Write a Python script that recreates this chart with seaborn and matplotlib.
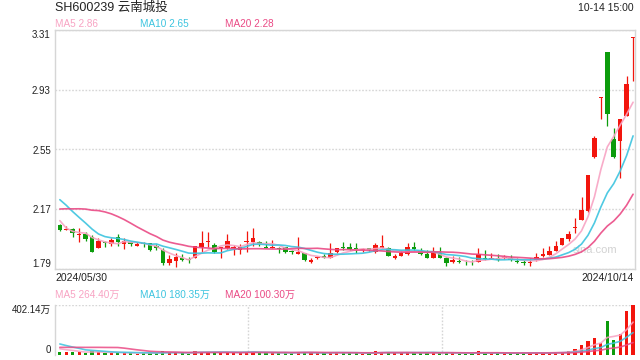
import numpy as np
import pandas as pd
import matplotlib
matplotlib.use('Agg')
import matplotlib.pyplot as plt
import seaborn as sns

# SH600239 云南城投, daily candles 2024/05/30 - 2024/10/14
opens = [2.070, 2.036, 2.044, 2.006, 2.012, 1.995, 1.925, 1.963, 1.949, 1.995,
         1.946, 1.959, 1.938, 1.953, 1.953, 1.938, 1.910, 1.826, 1.840, 1.857,
         1.851, 1.862, 1.927, 1.959, 1.942, 1.921, 1.921, 1.921, 1.910, 1.963,
         1.959, 1.963, 1.932, 1.925, 1.921, 1.927, 1.904, 1.883, 1.889, 1.836,
         1.857, 1.874, 1.862, 1.896, 1.927, 1.927, 1.921, 1.910, 1.921, 1.900,
         1.925, 1.921, 1.862, 1.874, 1.883, 1.927, 1.904, 1.883, 1.862, 1.889,
         1.862, 1.836, 1.840, 1.836, 1.836, 1.836, 1.862, 1.855, 1.862, 1.857,
         1.862, 1.840, 1.837, 1.826, 1.847, 1.873, 1.881, 1.907, 1.945, 1.981,
         2.051, 2.104, 2.157, 2.500, 2.878, 3.170, 2.617, 2.602, 2.765, 3.262]
closes = [2.038, 2.044, 2.016, 2.012, 1.980, 1.900, 1.968, 1.953, 1.974, 1.959,
          1.968, 1.946, 1.946, 1.949, 1.910, 1.921, 1.826, 1.851, 1.868, 1.847,
          1.847, 1.936, 1.953, 1.968, 1.900, 1.927, 1.968, 1.932, 1.932, 1.968,
          1.985, 1.946, 1.925, 1.929, 1.917, 1.896, 1.896, 1.896, 1.847, 1.847,
          1.868, 1.862, 1.889, 1.921, 1.921, 1.915, 1.917, 1.917, 1.910, 1.940,
          1.936, 1.874, 1.874, 1.889, 1.932, 1.917, 1.883, 1.862, 1.896, 1.862,
          1.830, 1.847, 1.832, 1.832, 1.832, 1.883, 1.853, 1.862, 1.847, 1.868,
          1.847, 1.836, 1.828, 1.836, 1.866, 1.885, 1.907, 1.939, 1.987, 2.013,
          2.058, 2.168, 2.385, 2.620, 2.882, 2.778, 2.500, 2.744, 2.967, 3.264]
highs = [2.074, 2.065, 2.048, 2.048, 2.023, 2.006, 1.985, 1.968, 1.985, 2.010,
         1.985, 1.963, 1.959, 1.963, 1.957, 1.946, 1.921, 1.879, 1.890, 1.883,
         1.868, 1.938, 2.031, 2.027, 1.953, 1.932, 2.010, 1.942, 1.946, 2.031,
         2.052, 1.968, 1.968, 1.974, 1.932, 1.932, 1.910, 1.995, 1.893, 1.862,
         1.874, 1.883, 1.953, 1.925, 1.959, 1.953, 1.953, 1.925, 1.925, 1.955,
         2.006, 1.932, 1.883, 1.910, 1.953, 1.963, 1.921, 1.910, 1.932, 1.932,
         1.868, 1.874, 1.868, 1.847, 1.847, 1.921, 1.910, 1.889, 1.883, 1.879,
         1.879, 1.857, 1.845, 1.858, 1.889, 1.924, 1.934, 1.966, 1.990, 2.034,
         2.115, 2.246, 2.390, 2.638, 2.882, 3.170, 2.687, 2.744, 3.018, 3.264]
lows = [2.033, 2.035, 1.995, 1.963, 1.970, 1.896, 1.921, 1.932, 1.938, 1.938,
        1.917, 1.938, 1.938, 1.932, 1.906, 1.910, 1.815, 1.815, 1.804, 1.840,
        1.826, 1.857, 1.900, 1.932, 1.890, 1.862, 1.917, 1.879, 1.883, 1.900,
        1.938, 1.938, 1.921, 1.921, 1.890, 1.890, 1.883, 1.883, 1.843, 1.826,
        1.853, 1.857, 1.857, 1.893, 1.910, 1.910, 1.890, 1.900, 1.904, 1.890,
        1.921, 1.870, 1.853, 1.870, 1.879, 1.910, 1.879, 1.857, 1.857, 1.857,
        1.811, 1.826, 1.826, 1.815, 1.815, 1.832, 1.847, 1.851, 1.843, 1.853,
        1.843, 1.826, 1.818, 1.810, 1.840, 1.869, 1.877, 1.903, 1.941, 1.970,
        2.019, 2.100, 2.153, 2.496, 2.746, 2.698, 2.496, 2.369, 2.761, 2.988]
# volume in 万 shares
volumes = [25, 22, 26, 24, 20, 30, 22, 16, 18, 20,
           17, 14, 12, 15, 20, 15, 30, 22, 24, 14,
           12, 32, 28, 24, 22, 18, 28, 18, 17, 24,
           28, 17, 15, 16, 14, 20, 14, 26, 25, 18,
           14, 13, 22, 24, 16, 15, 14, 12, 13, 30,
           28, 22, 15, 16, 24, 18, 16, 17, 20, 16,
           22, 14, 12, 12, 11, 30, 16, 13, 14, 13,
           16, 15, 17, 16, 18, 18, 20, 26, 26, 30,
           48, 80, 115, 139, 99.5, 273, 121, 169, 356.86, 402.14]

# the 19 sessions before 05/30, only used so the moving averages start where the chart does
prev_closes = [2.01, 2.03, 2.00, 2.02, 2.04, 2.02, 2.12, 2.22, 2.30, 2.36,
               2.40, 2.42, 2.38, 2.34, 2.28, 2.28, 2.12, 2.05, 2.00]
prev_volumes = [24, 26, 22, 28, 25, 23, 27, 24, 26,
                120, 150, 145, 130, 140, 70, 62, 55, 58, 52]

price_ticks = [1.79, 2.17, 2.55, 2.93, 3.31]
title = 'SH600239 云南城投'
stamp = '10-14 15:00'
first_date, last_date = '2024/05/30', '2024/10/14'
ma_labels = ['MA5 2.86', 'MA10 2.65', 'MA20 2.28']
vol_ma_labels = ['MA5 264.40万', 'MA10 180.35万', 'MA20 100.30万']

RED = '#f2150d'
GREEN = '#0c9c0c'
MA_COLORS = ['#f8a3c3', '#3cc4df', '#ea4a85']
GRID = '#d6d6d6'
FONT = ['Liberation Sans', 'Noto Sans CJK SC']

sns.set_theme(style='white')
plt.rcParams['font.family'] = FONT

df = pd.DataFrame({'open': opens, 'close': closes, 'high': highs,
                   'low': lows, 'vol': volumes})
df['i'] = np.arange(len(df))
n0 = len(prev_closes)
all_close = pd.Series(prev_closes + closes)
all_vol = pd.Series(prev_volumes + volumes)
for w in (5, 10, 20):
    df[f'ma{w}'] = all_close.rolling(w).mean().iloc[n0:].to_numpy()
    df[f'vma{w}'] = all_vol.rolling(w).mean().iloc[n0:].to_numpy()

colors = np.where(df['close'] >= df['open'], RED, GREEN)

W, H = 640, 360
fig = plt.figure(figsize=(6.4, 3.6), dpi=100)


def fx(x):
    return x / W


def fy(y):
    return 1 - y / H


ax = fig.add_axes([fx(55), fy(269), 580 / W, 239 / H])
axv = fig.add_axes([fx(55), fy(355), 580 / W, 50 / H])
xlim = (-0.75, len(df) - 0.7)

# price panel: candles
ax.vlines(df['i'], df['low'], df['high'], colors=colors, lw=0.9, zorder=2)
body = (df['close'] - df['open']).abs().clip(lower=0.005)
ax.bar(df['i'], body, bottom=df[['open', 'close']].min(axis=1), width=0.7,
       color=colors, lw=0, zorder=2)
for w, c in zip((5, 10, 20), MA_COLORS):
    sns.lineplot(data=df, x='i', y=f'ma{w}', ax=ax, color=c, lw=1.2,
                 alpha=0.9, zorder=3, legend=False)

ax.set_xlim(*xlim)
ax.set_ylim(price_ticks[0], price_ticks[-1])
ax.set_yticks(price_ticks)
ax.set_yticklabels([f'{t:.2f}' for t in price_ticks])
ax.set_xticks([])
ax.set_xlabel('')
ax.set_ylabel('')
ax.yaxis.grid(True, color=GRID, lw=1.0, linestyle=(0, (1.2, 1.2)))
ax.tick_params(axis='y', length=0, pad=3, labelsize=7, labelcolor='#222222')
for s in ax.spines.values():
    s.set_color(GRID)
    s.set_linewidth(1.0)
ticks = ax.yaxis.get_major_ticks()
ticks[0].label1.set_va('bottom')
ticks[-1].label1.set_va('top')
ax.text(0.97, 0.08, 'sina.com', transform=ax.transAxes, ha='right', va='center',
        fontsize=8, color='#d2d2d2', zorder=1)

# volume panel
vmax = df['vol'].max()
axv.bar(df['i'], df['vol'], width=0.5, color=colors, lw=0, zorder=2)
for w, c in zip((5, 10, 20), MA_COLORS):
    sns.lineplot(data=df, x='i', y=f'vma{w}', ax=axv, color=c, lw=1.2,
                 alpha=0.85, zorder=3, legend=False)
axv.set_xlim(*xlim)
axv.set_ylim(0, vmax)
axv.set_yticks([0, vmax])
axv.set_yticklabels(['0', f'{vmax:.2f}万'])
axv.set_xticks([])
axv.set_xlabel('')
axv.set_ylabel('')
axv.tick_params(axis='y', length=0, pad=3, labelsize=7, labelcolor='#222222')
vt = axv.yaxis.get_major_ticks()
vt[0].label1.set_va('bottom')
vt[-1].label1.set_va('top')
for side in ('top', 'bottom', 'right'):
    axv.spines[side].set_visible(False)
axv.spines['left'].set_color(GRID)
axv.spines['left'].set_linewidth(1.0)
axv.axhline(vmax, color=GRID, lw=1.0, linestyle=(0, (1.2, 1.2)), zorder=1)
for frac in (1 / 3, 2 / 3):
    axv.plot([frac, frac], [0, 1], transform=axv.transAxes, color=GRID,
             lw=1.0, linestyle=(0, (1.2, 1.2)), zorder=1)

# header and labels
fig.text(fx(55), fy(8), title, fontsize=9, color='#222222', va='center')
fig.text(fx(634), fy(8), stamp, fontsize=7.5, color='#222222', va='center', ha='right')
for x, lab, c in zip((55, 140, 225), ma_labels, MA_COLORS):
    fig.text(fx(x), fy(24), lab, fontsize=7.2, color=c, va='center')
for x, lab, c in zip((55, 140, 225), vol_ma_labels, MA_COLORS):
    fig.text(fx(x), fy(295), lab, fontsize=7.2, color=c, va='center')
fig.text(fx(55), fy(278), first_date, fontsize=7.5, color='#222222', va='center')
fig.text(fx(634), fy(278), last_date, fontsize=7.5, color='#222222', va='center', ha='right')

fig.savefig('out.png', dpi=100)
